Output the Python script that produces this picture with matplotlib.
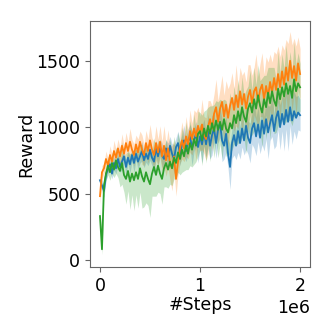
import numpy as np
import matplotlib
matplotlib.use("Agg")
import matplotlib.pyplot as plt

steps = np.arange(101) * 20000

blue = [600, 560, 520, 640, 690, 720, 650, 730, 690, 760,
        700, 740, 780, 700, 770, 720, 790, 730, 800, 740,
        780, 820, 750, 800, 760, 830, 770, 740, 840, 780,
        850, 790, 760, 840, 780, 860, 800, 760, 850, 880,
        800, 870, 900, 820, 890, 930, 840, 900, 950, 850,
        930, 870, 960, 870, 970, 860, 940, 990, 880, 980,
        1030, 900, 860, 950, 800, 700, 880, 940, 860, 970,
        880, 990, 900, 1010, 920, 880, 990, 1030, 930, 1020,
        920, 1050, 950, 1060, 960, 1030, 1090, 970, 1070, 1120,
        1000, 1100, 1020, 1130, 1040, 1150, 1050, 1120, 1070, 1110,
        1090]
blue_sd = [30, 40, 50, 40, 35, 45, 40, 55, 40, 50,
           40, 60, 45, 55, 40, 65, 50, 70, 45, 60,
           50, 75, 55, 65, 50, 80, 60, 95, 60, 70,
           60, 90, 70, 65, 100, 70, 75, 110, 70, 90,
           90, 75, 115, 80, 95, 90, 130, 85, 95, 120,
           90, 140, 100, 95, 130, 100, 150, 105, 115, 100,
           110, 160, 100, 140, 110, 170, 115, 150, 105, 160,
           120, 140, 110, 180, 125, 150, 120, 190, 145, 130,
           120, 180, 130, 150, 200, 130, 160, 135, 210, 140,
           170, 130, 200, 145, 220, 140, 180, 150, 160, 130,
           120]

orange = [480, 660, 690, 760, 710, 790, 740, 820, 770, 840,
          780, 860, 800, 880, 820, 890, 830, 790, 870, 810,
          890, 830, 790, 880, 820, 900, 830, 790, 880, 810,
          890, 780, 860, 750, 840, 730, 690, 780, 610, 740,
          840, 900, 840, 930, 870, 970, 910, 990, 930, 1010,
          950, 1020, 940, 910, 1000, 1060, 990, 1100, 1150, 1040,
          1140, 1190, 1080, 1170, 1070, 1160, 1220, 1130, 1240, 1150,
          1270, 1170, 1250, 1140, 1230, 1280, 1180, 1270, 1300, 1190,
          1280, 1320, 1210, 1310, 1230, 1340, 1260, 1370, 1280, 1400,
          1300, 1420, 1320, 1450, 1350, 1500, 1370, 1460, 1350, 1480,
          1400]
orange_sd = [60, 50, 40, 60, 50, 70, 55, 80, 60, 70,
             65, 90, 60, 80, 70, 100, 75, 85, 70, 100,
             80, 110, 80, 95, 90, 120, 90, 100, 130, 100,
             120, 110, 150, 120, 140, 130, 170, 120, 130, 100,
             110, 140, 100, 150, 110, 160, 120, 140, 180, 140,
             130, 190, 140, 160, 200, 140, 170, 150, 210, 160,
             150, 200, 160, 180, 220, 170, 190, 160, 230, 160,
             180, 220, 170, 200, 240, 190, 210, 180, 250, 190,
             200, 240, 190, 220, 260, 210, 230, 200, 270, 210,
             230, 200, 260, 210, 280, 220, 250, 210, 260, 200,
             190]

green = [330, 80, 560, 650, 710, 660, 730, 680, 750, 700,
         670, 730, 640, 610, 670, 590, 650, 600, 660, 610,
         690, 630, 590, 660, 610, 570, 650, 700, 640, 710,
         650, 610, 690, 730, 680, 740, 690, 770, 730, 810,
         760, 830, 780, 860, 800, 880, 830, 910, 860, 950,
         970, 900, 990, 930, 1010, 950, 1030, 970, 1050, 980,
         1040, 980, 1060, 990, 960, 1030, 990, 1090, 1030, 1120,
         1050, 1150, 1080, 1040, 1140, 1180, 1110, 1210, 1140, 1240,
         1160, 1110, 1210, 1150, 1260, 1180, 1270, 1200, 1160, 1290,
         1210, 1300, 1230, 1330, 1250, 1310, 1220, 1360, 1270, 1330,
         1300]
green_sd = [60, 40, 60, 50, 70, 60, 80, 60, 100, 80,
            120, 160, 130, 190, 150, 210, 160, 230, 170, 220,
            180, 240, 190, 230, 200, 250, 170, 220, 160, 200,
            150, 190, 140, 180, 140, 170, 130, 160, 120, 150,
            120, 170, 110, 180, 120, 170, 130, 190, 120, 170,
            140, 190, 130, 200, 140, 210, 130, 200, 150, 210,
            170, 220, 150, 210, 170, 230, 160, 220, 170, 240,
            170, 230, 160, 240, 170, 250, 170, 240, 180, 230,
            190, 260, 180, 240, 190, 270, 180, 250, 200, 280,
            200, 250, 210, 290, 200, 260, 210, 280, 200, 230,
            180]

plt.rcParams['font.size'] = 12.5
fig = plt.figure(figsize=(3.32, 3.32), dpi=100)
ax = fig.add_axes([0.271, 0.196, 0.663, 0.741])

for mean, sd, color in [(blue, blue_sd, 'C0'), (orange, orange_sd, 'C1'), (green, green_sd, 'C2')]:
    mean = np.array(mean)
    sd = np.array(sd)
    ax.plot(steps, mean, color=color, linewidth=1.3)
    ax.fill_between(steps, mean - sd, mean + sd, color=color, alpha=0.25, linewidth=0)

ax.set_xlim(-100000, 2100000)
ax.set_ylim(-53, 1800)
ax.set_xticks([0, 1000000, 2000000])
ax.set_yticks([0, 500, 1000, 1500])
ax.set_xlabel('#Steps', labelpad=1)
ax.set_ylabel('Reward', labelpad=1)
for s in ax.spines.values():
    s.set_color('0.4')
ax.tick_params(color='0.4')

fig.savefig('out.png', dpi=100)
